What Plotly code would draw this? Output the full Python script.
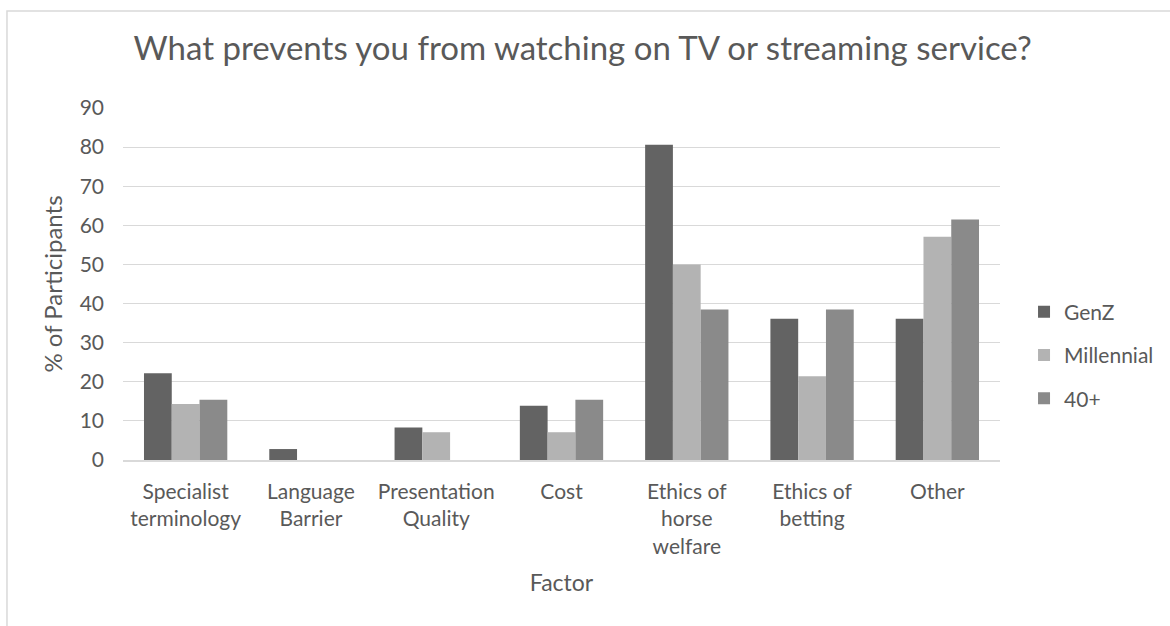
import plotly.graph_objects as go

categories = ["Specialist<br>terminology", "Language<br>Barrier", "Presentation<br>Quality", "Cost",
              "Ethics of<br>horse<br>welfare", "Ethics of<br>betting", "Other"]
genz = [22.2, 2.8, 8.3, 13.9, 80.6, 36.1, 36.1]
millennial = [14.3, 0, 7.1, 7.1, 50.0, 21.4, 57.1]
forty_plus = [15.4, 0, 0, 15.4, 38.5, 38.5, 61.5]
series_names = ["GenZ", "Millennial", "40+"]
colors = ["#636363", "#b3b3b3", "#8a8a8a"]

FONT = "Lato"
TXT = "#595959"

fig = go.Figure()
for i, (name, vals) in enumerate(zip(series_names, [genz, millennial, forty_plus])):
    fig.add_trace(go.Bar(x=categories, y=vals, name=name, marker_color=colors[i],
                         marker_line_width=0, legendgroup=name))

fig.update_layout(
    width=1170, height=626,
    paper_bgcolor="white", plot_bgcolor="white",
    margin=dict(l=123, r=170, t=108, b=166, autoexpand=False),
    barmode="group", bargap=0.335, bargroupgap=0,
    font=dict(family=FONT, color=TXT, size=21),
    title=dict(text="What prevents you from watching on TV or streaming service?",
               x=0.498, xanchor="center", y=0.9233, yanchor="middle",
               font=dict(size=33, color=TXT, family=FONT)),
    legend=dict(x=1.0274, xanchor="left", y=0.298, yanchor="middle",
                font=dict(size=21, color=TXT), tracegroupgap=13,
                itemwidth=30),
    showlegend=True,
)
fig.update_xaxes(title=dict(text="Factor", font=dict(size=23, color=TXT), standoff=18),
                 showline=True, linecolor="#d9d9d9", linewidth=1.5,
                 tickfont=dict(size=21, color=TXT), ticks="", ticklabelstandoff=12,
                 automargin=False)
fig.update_yaxes(title=dict(text="% of Participants", font=dict(size=24, color=TXT), standoff=10),
                 range=[0, 90], dtick=10, showgrid=True, gridcolor="#d9d9d9", gridwidth=1.3,
                 zeroline=False, tickfont=dict(size=21, color=TXT), ticks="", ticklabelstandoff=18,
                 automargin=False)

# chart border
fig.add_shape(type="rect", xref="paper", yref="paper",
              x0=-0.1323, x1=1.3, y0=-0.6, y1=1.2756,
              line=dict(color="#d9d9d9", width=1.5), fillcolor="rgba(0,0,0,0)", layer="below")

fig.write_html("out.html", config={"displayModeBar": False},
               post_script="document.body.style.margin='0';")
